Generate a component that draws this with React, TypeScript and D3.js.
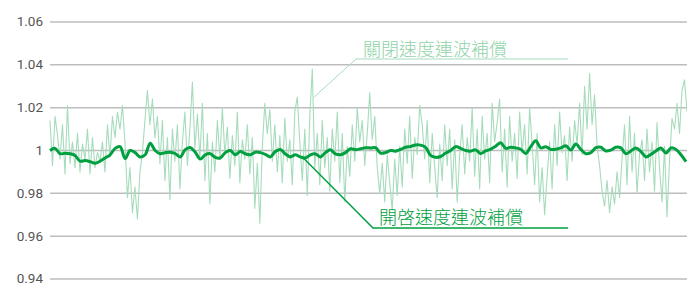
import React, { useRef, useEffect } from "react";
import * as d3 from "d3";

// y axis ticks
const yTicks = [0.94, 0.96, 0.98, 1, 1.02, 1.04, 1.06];

// compensation OFF (raw, noisy)
const offValues = [
  1.014, 0.993, 1.016, 1.007, 0.996, 1.012, 0.989, 1.021, 0.994, 1.004,
  0.992, 1.008, 0.990, 1.003, 0.996, 1.010, 0.989, 1.006, 0.992, 0.999,
  0.995, 1.004, 0.990, 1.012, 0.997, 1.016, 1.006, 1.018, 1.010, 1.021,
  1.004, 0.978, 0.992, 0.971, 0.983, 0.968, 0.990, 0.999, 1.014, 1.028,
  1.012, 1.024, 1.006, 1.016, 0.994, 1.014, 0.986, 1.006, 0.977, 1.010,
  0.995, 1.012, 0.982, 1.004, 1.018, 0.993, 1.010, 1.032, 1.001, 1.017,
  0.996, 1.022, 0.986, 1.008, 0.975, 1.004, 0.990, 1.014, 0.996, 1.020,
  0.998, 1.011, 0.987, 1.007, 0.993, 1.018, 0.985, 1.005, 0.996, 1.012,
  0.989, 1.006, 0.973, 0.994, 0.966, 1.002, 1.022, 1.008, 1.019, 0.995,
  1.012, 0.990, 1.007, 0.985, 1.015, 0.995, 1.005, 0.984, 1.018, 1.025,
  1.004, 0.986, 1.010, 0.979, 1.016, 1.038, 0.992, 1.008, 0.984, 1.014,
  0.992, 1.006, 0.981, 1.010, 0.995, 1.018, 0.985, 1.008, 0.976, 1.002,
  0.988, 1.012, 0.995, 1.020, 1.004, 1.014, 0.993, 1.008, 1.027, 1.005,
  1.016, 0.992, 0.980, 0.994, 0.976, 0.998, 0.985, 0.972, 0.996, 0.979,
  1.002, 0.983, 1.010, 0.994, 1.016, 0.987, 1.006, 0.998, 1.021, 1.012,
  0.996, 1.014, 0.985, 1.008, 0.992, 0.978, 1.003, 0.986, 1.012, 0.993,
  1.010, 0.982, 1.005, 0.976, 0.998, 1.012, 0.989, 1.006, 0.995, 1.020,
  0.988, 1.010, 0.982, 1.016, 0.996, 1.008, 0.985, 1.022, 1.004, 1.013,
  1.024, 0.990, 1.010, 0.983, 1.016, 0.995, 1.008, 0.987, 1.018, 0.999,
  1.012, 0.989, 1.020, 1.003, 0.984, 1.008, 0.976, 0.992, 0.970, 0.988,
  1.004, 0.982, 1.012, 0.993, 1.018, 0.999, 1.007, 0.986, 1.011, 0.995,
  1.014, 1.003, 1.022, 0.998, 1.030, 1.010, 1.036, 1.012, 1.026, 1.002,
  0.993, 0.981, 0.974, 0.986, 0.971, 0.983, 0.975, 0.990, 0.978, 0.996,
  1.012, 0.984, 1.016, 0.990, 1.008, 0.980, 0.998, 1.005, 0.986, 1.010,
  0.990, 1.004, 0.981, 1.013, 0.992, 0.976, 1.002, 0.969, 0.995, 1.015,
  1.010, 1.022, 1.008, 1.028, 1.033, 1.018,
];

// compensation ON (smooth)
const onValues = [
  1.0, 1.001, 0.9985, 0.9987, 0.9985, 0.9977, 0.995, 0.9953, 0.9948, 0.994,
  0.995, 0.9965, 0.998, 1.001, 1.0018, 0.9962, 1.0, 0.999, 0.997, 0.998,
  1.0034, 1.0, 0.9985, 0.999, 0.9992, 0.9986, 0.997, 1.0004, 1.0014, 0.9992,
  0.996, 0.998, 0.9985, 0.9968, 0.9965, 0.999, 1.0, 0.998, 0.9995, 0.9985,
  0.998, 0.9992, 0.999, 0.9982, 0.997, 0.9995, 1.0005, 0.9984, 0.997, 0.998,
  0.997, 0.9965, 0.998, 0.9984, 0.997, 0.999, 1.0003, 0.9984, 0.998, 0.999,
  1.0008, 1.0004, 1.0008, 1.0013, 1.0012, 1.0013, 0.9988, 0.999, 1.0, 0.9997,
  1.0005, 1.0015, 1.0019, 1.0026, 1.0025, 1.0015, 0.9977, 0.9968, 0.9972, 0.9988,
  1.0, 1.0018, 1.001, 1.0, 0.9997, 1.0003, 0.9986, 0.9998, 1.0006, 1.002,
  1.0036, 1.001, 1.0015, 1.0012, 1.0006, 0.9986, 1.0018, 1.0045, 1.0012, 1.0018,
  1.0005, 1.0006, 1.0012, 1.0022, 1.0002, 1.003, 1.0005, 0.9985, 0.999, 1.0013,
  1.0015, 0.9998, 1.0002, 1.0015, 1.0012, 0.9985, 0.9998, 1.0012, 0.9995, 0.997,
  0.9982, 0.9998, 1.0012, 0.9988, 1.0012, 1.0005, 0.998, 0.9948,
];

const offLabel = "關閉速度連波補償";
const onLabel = "開啓速度連波補償";

const W = 687;
const H = 285;

export default function App() {
  const svgRef = useRef<SVGSVGElement>(null);

  useEffect(() => {
    const svg = d3.select(svgRef.current);
    svg.selectAll("*").remove();

    const y = d3.scaleLinear().domain([0.94, 1.06]).range([279, 22]);
    const xOff = d3.scaleLinear().domain([0, offValues.length - 1]).range([50, 687]);
    const xOn = d3.scaleLinear().domain([0, onValues.length - 1]).range([50, 686]);

    const lightGreen = "#a6dcbb";
    const darkGreen = "#00a040";

    // grid + tick labels
    const grid = svg.append("g");
    yTicks.forEach((t) => {
      grid
        .append("line")
        .attr("x1", 50)
        .attr("x2", W)
        .attr("y1", y(t))
        .attr("y2", y(t))
        .attr("stroke", "#bdbdbd")
        .attr("stroke-width", 1.5);
      grid
        .append("text")
        .attr("x", 43)
        .attr("y", y(t))
        .attr("dy", "0.33em")
        .attr("text-anchor", "end")
        .attr("fill", "#555")
        .style("font-family", "'Liberation Sans Narrow', 'Roboto', sans-serif")
        .style("font-size", "13.5px")
        .text(d3.format("")(t));
    });

    const lineOff = d3
      .line<number>()
      .x((_, i) => xOff(i))
      .y((d) => y(d));

    const lineOn = d3
      .line<number>()
      .x((_, i) => xOn(i))
      .y((d) => y(d))
      .curve(d3.curveCatmullRom);

    svg
      .append("path")
      .datum(offValues)
      .attr("d", lineOff)
      .attr("fill", "none")
      .attr("stroke", lightGreen)
      .attr("stroke-width", 1.1)
      .attr("stroke-linejoin", "round");

    svg
      .append("path")
      .datum(onValues)
      .attr("d", lineOn)
      .attr("fill", "none")
      .attr("stroke", darkGreen)
      .attr("stroke-width", 3)
      .attr("stroke-linejoin", "round");

    // annotation: OFF (points at the spike)
    const offIdx = 105;
    svg
      .append("polyline")
      .attr("points", `${xOff(offIdx) + 2},${y(1.025)} 356,59 568,59`)
      .attr("fill", "none")
      .attr("stroke", lightGreen)
      .attr("stroke-width", 1);
    svg
      .append("text")
      .attr("x", 363)
      .attr("y", 56)
      .attr("fill", "#8fd3a8")
      .style("font-family", "'Noto Sans CJK TC', sans-serif")
      .style("font-weight", 300)
      .style("font-size", "18px")
      .text(offLabel);

    // annotation: ON
    const onIdx = 50;
    svg
      .append("polyline")
      .attr("points", `${xOn(onIdx) + 2},${y(onValues[onIdx])} 373,228 568,228`)
      .attr("fill", "none")
      .attr("stroke", darkGreen)
      .attr("stroke-width", 1.5);
    svg
      .append("text")
      .attr("x", 379)
      .attr("y", 224)
      .attr("fill", "#00a040")
      .style("font-family", "'Noto Sans CJK TC', sans-serif")
      .style("font-weight", 300)
      .style("font-size", "18px")
      .text(onLabel);
  }, []);

  return (
    <svg
      ref={svgRef}
      width={W}
      height={H}
      style={{ position: "absolute", left: 0, top: 0, background: "#fff" }}
    />
  );
}
